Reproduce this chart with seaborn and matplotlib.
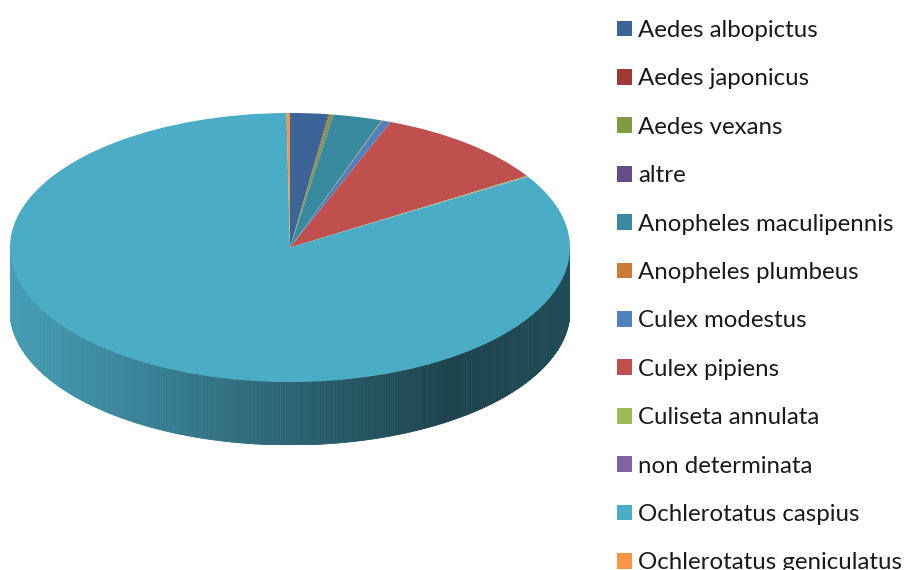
import numpy as np
import matplotlib.pyplot as plt
import matplotlib.colors as mcolors
import seaborn as sns

species = ["Aedes albopictus", "Aedes japonicus", "Aedes vexans", "altre",
           "Anopheles maculipennis", "Anopheles plumbeus", "Culex modestus",
           "Culex pipiens", "Culiseta annulata", "non determinata",
           "Ochlerotatus caspius", "Ochlerotatus geniculatus"]
percent = [2.2, 0.05, 0.2, 0.05, 2.8, 0.05, 0.5, 10.2, 0.1, 0.05, 83.6, 0.2]
colors = ["#3C6496", "#9E3B38", "#7E9A44", "#664D86", "#388A9F", "#CC7A38",
          "#4F81BD", "#C0504D", "#9BBB59", "#8064A2", "#4BACC6", "#F79646"]

sns.set_theme(style="white")
plt.rcParams['font.family'] = ['Lato', 'DejaVu Sans']

W, H = 909, 570
fig = plt.figure(figsize=(W / 100, H / 100), dpi=100)

# pixel box of the 3d pie
x0, x1 = 10, 570
ytop, yface, ybot = 113, 382, 445
depth = (ybot - yface) / ((yface - ytop) / 2)

ax = fig.add_axes([x0 / W, (H - ybot) / H, (x1 - x0) / W, (ybot - ytop) / H])
wedges, _ = ax.pie(percent, colors=colors, startangle=90, counterclock=False,
                   wedgeprops=dict(linewidth=0, zorder=3))
ax.set_aspect('auto')
ax.set_xlim(-1, 1)
ax.set_ylim(-1 - depth, 1)
ax.axis('off')

# side of the pie, only the front half shows
cum = np.cumsum(percent) / np.sum(percent) * 360
phis = np.linspace(180, 360, 361)
for a, b in zip(phis[:-1], phis[1:]):
    theta = (90 - (a + b) / 2) % 360
    idx = int(np.searchsorted(cum, theta))
    xa, xb = np.cos(np.radians(a)), np.cos(np.radians(b))
    ya, yb = np.sin(np.radians(a)), np.sin(np.radians(b))
    xm = (xa + xb) / 2
    shade = 0.92 - 0.338 * (xm + 1) if xm < 0.57 else 0.39 + 0.05 * (xm - 0.57) / 0.43
    rgb = np.array(mcolors.to_rgb(colors[idx])) * shade
    ax.fill([xa, xb, xb, xa], [ya, yb, yb - depth, ya - depth],
            color=rgb, lw=0.6, zorder=2)

fig.legend(wedges, species, loc='upper left', bbox_to_anchor=(617 / W, 1 - 20 / H),
           frameon=False, fontsize=17.3, handlelength=0.63, handleheight=0.63,
           handletextpad=0.25, labelspacing=1.14, borderaxespad=0, borderpad=0,
           labelcolor="#1A1A1A")

fig.savefig("out.png", dpi=100)
